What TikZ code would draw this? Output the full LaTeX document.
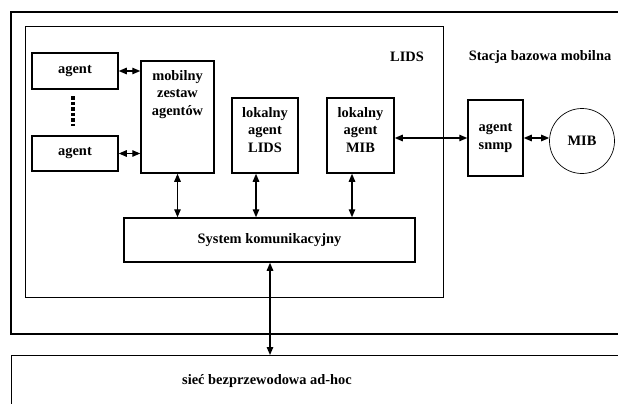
\documentclass[tikz,border=0pt]{standalone}
\usepackage{fontspec}
\setmainfont{Liberation Serif}
\usetikzlibrary{arrows.meta}

\begin{document}
\begin{tikzpicture}[x=1pt,y=1pt]
\tikzstyle{every node}+=[inner sep=0pt, align=center, font=\fontsize{14.4}{17.5}\selectfont\bfseries]
\tikzstyle{box}=[draw=black, line width=1.5pt, rectangle]
\tikzstyle{link}=[black, line width=1.3pt, {Triangle[length=8pt,width=6.5pt]}-{Triangle[length=8pt,width=6.5pt]}]
\useasboundingbox (0,0) rectangle (618,-404);
% frames
\draw [black, line width=1.5pt] (618,-12) -- (11,-12) -- (11,-334) -- (618,-334);
\draw [black, line width=0.7pt] (25,-26) rectangle (443,-297);
\draw [black, line width=0.7pt] (618,-355) -- (11,-355) -- (11,-404);
% blocks
\node [box, minimum width=86, minimum height=36] (agentA) at (75,-71) {agent};
\node [box, minimum width=86, minimum height=35] (agentB) at (75,-153.5) {agent};
\draw [black, line width=4pt, dash pattern=on 3.5pt off 2pt] (73,-96) -- (73,-126);
\node [box, minimum width=73, minimum height=112] (zestaw) at (177.5,-117) {};
\node [anchor=north] (zestawTxt) at ([yshift=-10pt]zestaw.north) {mobilny\\zestaw\\agentów};
\node [box, minimum width=66, minimum height=75, text depth=11pt] (lokLids) at (265,-135.5) {lokalny\\agent\\LIDS};
\node [box, minimum width=67, minimum height=75, text depth=11pt] (lokMib) at (360.5,-135.5) {lokalny\\agent\\MIB};
\node [box, minimum width=55, minimum height=76] (snmp) at (495.5,-138) {agent\\snmp};
\node [circle, draw=black, line width=0.7pt, minimum size=65] (mib) at (582,-141) {MIB};
\node [box, minimum width=291, minimum height=44] (sys) at (269.5,-240) {System komunikacyjny};
% labels
\node (lids) at (407,-57) {LIDS};
\node (stacja) at (540,-57) {Stacja bazowa mobilna};
\node (siec) at (267,-381) {sieć bezprzewodowa ad-hoc};
\coordinate (netTop) at (270,-355);
% links
\draw [link] (agentA.east) -- (agentA.east -| zestaw.west);
\draw [link] (agentB.east) -- (agentB.east -| zestaw.west);
\draw [link] (zestaw.south) -- (zestaw.south |- sys.north);
\draw [link] ([xshift=-9pt]lokLids.south) -- ([xshift=-9pt]lokLids.south |- sys.north);
\draw [link] ([xshift=-8.5pt]lokMib.south) -- ([xshift=-8.5pt]lokMib.south |- sys.north);
\draw [link] (lokMib.east |- snmp.west) -- (snmp.west);
\draw [link] (snmp.east) -- (snmp.east -| mib.west);
\draw [link] (sys.south -| netTop) -- (netTop);
\end{tikzpicture}
\end{document}
